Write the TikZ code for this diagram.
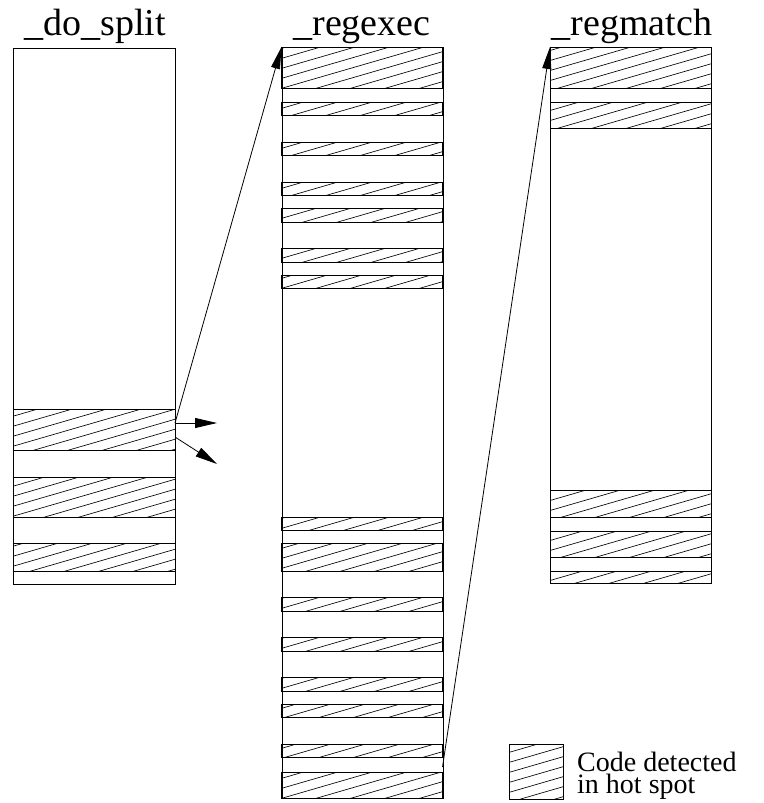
\documentclass[tikz,border=0pt]{standalone}
\usepackage{fontspec}
\setmainfont{Liberation Serif}
\usetikzlibrary{arrows.meta}

\tikzset{
  frame/.style={draw=black, line width=1pt},
  codebox/.style={frame, inner sep=0pt, anchor=north west},
  hatchline/.style={line width=0.65pt},
  title/.style={anchor=base, inner sep=0pt, font=\fontsize{38}{40}\selectfont},
  legtext/.style={anchor=base west, inner sep=0pt, align=left,
                  font=\fontsize{28}{22}\selectfont},
  link/.style={line width=0.8pt, -{Triangle[length=22pt,width=9pt]}},
  callout/.style={line width=0.8pt, -{Triangle[length=22pt,width=10pt]}},
}

% hatched band: #1=left, #2=top, #3=right, #4=bottom (y grows downward)
\newcommand\hatchband[4]{%
  \pgfmathtruncatemacro\hbfrom{(#2+0.29*#1)/10}%
  \pgfmathtruncatemacro\hbto{(#4+0.29*#3)/10+1}%
  \begin{scope}
    \clip (#1,#2) rectangle (#3,#4);
    \foreach \k in {\hbfrom,...,\hbto}
      \draw[hatchline] (#1,{10*\k-0.29*#1}) -- (#3,{10*\k-0.29*#3});
  \end{scope}
  \draw[frame] (#1,#2) rectangle (#3,#4);
}

\begin{document}
\begin{tikzpicture}[x=1pt,y=-1pt]
  \useasboundingbox (0,0) rectangle (763,803);

  % function bodies
  \node[codebox, minimum width=162pt, minimum height=536pt] (dosplit) at (13,48) {};
  \node[codebox, minimum width=161pt, minimum height=751pt] (regexec) at (281.5,47) {};
  \node[codebox, minimum width=161pt, minimum height=536pt] (regmatch) at (550,47) {};

  % titles
  \node[title] (tdosplit) at (95,35) {\_do\_split};
  \node[title] (tregexec) at (362,35) {\_regexec};
  \node[title] (tregmatch) at (632,35) {\_regmatch};

  % hot-spot code regions
  \foreach \a/\b in {409/450, 477/517, 543/571}
    \hatchband{13}{\a}{175}{\b};
  \foreach \a/\b in {47/88, 102/115, 142/155, 182/195, 208/222, 248/262,
                     275/288, 517/530, 543/571, 597/611, 637/651, 677/691,
                     704/717, 744/757, 772/798}
    \hatchband{281.5}{\a}{442.5}{\b};
  \foreach \a/\b in {47/88, 102/128, 490/517, 531/557, 571/583}
    \hatchband{550}{\a}{711}{\b};

  % call sites
  \coordinate (callA) at (175,423);
  \coordinate (callB) at (175,437);
  \coordinate (outA) at (217,423);
  \coordinate (outB) at (217,464);
  \coordinate (callC) at (442.5,767);

  \draw[link] (callA) -- (regexec.north west);
  \draw[link] (callC) -- (regmatch.north west);
  \draw[callout] (callA) -- (outA);
  \draw[callout] (callB) -- (outB);

  % legend
  \hatchband{509}{744}{563}{799}
  \node[inner sep=0pt, minimum width=54pt, minimum height=55pt, anchor=north west] (legendbox) at (509,744) {};
  \node[legtext] (legtxt) at (577,793) {Code detected\\in hot spot};
\end{tikzpicture}
\end{document}
